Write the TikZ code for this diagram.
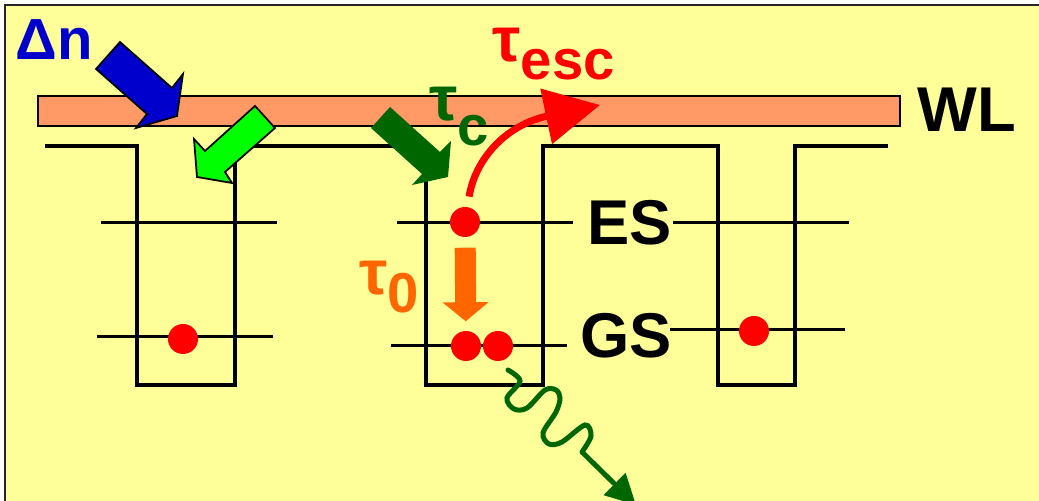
\documentclass[tikz,border=0pt]{standalone}
\usepackage{fontspec}
\setmainfont{Liberation Sans}
\usetikzlibrary{arrows.meta}
\definecolor{fundo}{HTML}{FFFF99}
\definecolor{barra}{HTML}{FF9966}
\definecolor{azul}{HTML}{0000CC}
\definecolor{verdeclaro}{HTML}{00FF00}
\definecolor{verdeescuro}{HTML}{006600}
\definecolor{laranja}{HTML}{FF6600}
\newcommand{\indice}[2][5pt]{\raisebox{-#1}{\fontsize{16}{16}\selectfont #2}}
\begin{document}
\begin{tikzpicture}[x=0.01cm, y=-0.01cm, font=\bfseries\fontsize{18}{18}\selectfont,
    banda/.style={line width=1.3pt},
    nivel/.style={line width=0.85pt},
    eletron/.style={circle, fill=red, inner sep=0pt, minimum size=0.3cm},
    rotulo/.style={inner sep=0pt, anchor=base west},
    seta/.style={draw=black, line width=0.5pt, line join=miter}]
    \useasboundingbox (0,0) rectangle (1039,501);
    % fundo amarelo com moldura
    \fill[white] (0,0) rectangle (1039,501);
    \filldraw[fill=fundo, draw=black!85, line width=0.6pt] (5,5) rectangle (1060,520);
    % camada de molhamento (WL)
    \filldraw[fill=barra, draw=black, line width=0.5pt] (38,96) rectangle (900,126);
    \node[rotulo] (wl) at (917,132) {WL};
    % perfil da banda de conducao com tres pocos
    \draw[banda] (45,146) -| (137,385) -| (235,146) -| (426,385) -| (543,146) -| (718,385) -| (795,146) -- (888,146);
    % niveis ES e GS de cada poco
    \draw[nivel] (101,223) -- (277,223);
    \draw[nivel] (97,337) -- (273,337);
    \draw[nivel] (397,223) -- (573,223);
    \draw[nivel] (391,346) -- (567,346);
    \draw[nivel] (673,223) -- (849,223);
    \draw[nivel] (670,330) -- (845,330);
    \node[rotulo] (es) at (587,245) {ES};
    \node[rotulo] (gs) at (580,358) {GS};
    % eletrons
    \node[eletron] (e1) at (183,339) {};
    \node[eletron] (e2) at (465,222) {};
    \node[eletron] (e3) at (466,346) {};
    \node[eletron] (e4) at (498,346) {};
    \node[eletron] (e5) at (754,331) {};
    % injecao e captura (setas largas)
    \filldraw[seta, fill=azul] (120,42) -- (172,88) -- (183,74) -- (177,116) -- (136,128) -- (147,114) -- (96,69) -- cycle;
    \filldraw[seta, fill=verdeclaro] (255,106) -- (205,151) -- (194,139) -- (197,177) -- (232,183) -- (225,172) -- (275,128) -- cycle;
    \fill[verdeescuro] (390,107) -- (440,152) -- (451,141) -- (448,177) -- (412,185) -- (422,174) -- (371,128) -- cycle;
    \node[rotulo, text=azul] (dn) at (15,60) {\fontsize{16.5}{16.5}\selectfont Δn};
    \node[rotulo, text=verdeescuro] (tc) at (429,121) {τ\indice[7pt]{c}};
    % escape para a WL
    \coordinate (fuga) at (600,105);
    \draw[red, line width=2pt, shorten <=0.1cm, -{Triangle[length=0.55cm, width=0.55cm]}] (e2) .. controls (475,160) and (505,125) .. (fuga);
    \node[rotulo, text=red] (tesc) at (492,62) {τ\indice{esc}};
    % relaxacao ES -> GS
    \draw[laranja, line width=0.21cm, shorten <=0.1cm, shorten >=0.09cm, -{Triangle[length=0.19cm, width=0.45cm]}] (e2) -- (e3);
    \node[rotulo, text=laranja] (t0) at (359,295) {τ\indice{0}};
    % emissao de foton
    \coordinate (onda) at (582,452);
    \coordinate (foton) at (636,505);
    \draw[verdeescuro, line width=0.05cm, line cap=round] plot[smooth, tension=0.55] coordinates {(508,370) (520,381) (507,398) (514,409) (527,408) (545,390) (556,390) (560,398) (556,412) (543,433) (549,444) (562,442) (585,425) (591,436) (582,452)};
    \draw[verdeescuro, line width=0.05cm, -{Triangle[length=0.3cm, width=0.3cm]}] (onda) -- (foton);
\end{tikzpicture}
\end{document}
